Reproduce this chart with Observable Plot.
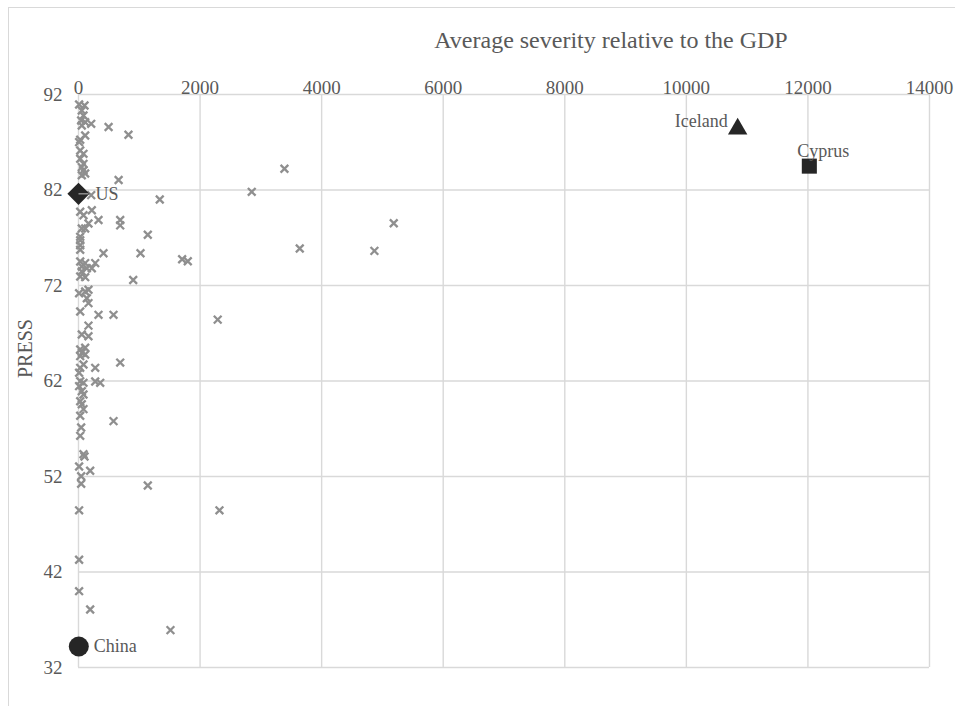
<!DOCTYPE html>
<html><head><meta charset="utf-8">
<script src="https://cdn.jsdelivr.net/npm/d3@7"></script>
<script src="https://cdn.jsdelivr.net/npm/@observablehq/plot@0.6"></script>
<style>
body{margin:0;background:#fff;}
#wrap{position:relative;width:955px;height:706px;overflow:hidden;background:#fff;}
#border{position:absolute;left:8px;top:7px;width:1000px;height:1000px;border:1px solid #d9d9d9;}
#chart{position:absolute;left:0;top:0;}
#chart svg text{font-family:"Liberation Serif","DejaVu Serif",serif;}
</style></head><body>
<div id="wrap"><div id="border"></div><div id="chart"></div></div>
<script>
// Gray points: average severity relative to GDP (x) and PRESS score (y)
const severity = [10,99,54,82,44,110,209,54,495,822,110,28,10,28,82,28,82,54,3388,82,110,54,660,2850,209,1337,219,28,82,329,686,5186,164,686,54,110,1140,28,28,28,3640,28,4868,411,1020,1705,1798,28,110,275,54,219,137,54,28,110,900,164,110,10,137,164,28,329,576,2290,164,54,164,110,28,54,110,28,686,82,28,275,10,28,275,82,357,10,54,82,28,54,82,28,576,44,28,82,99,10,192,44,44,1140,10,2319,10,10,192,1513];
const press = [90.95,90.85,90.32,89.80,89.28,89.10,88.93,88.75,88.6,87.78,87.71,87.26,87.01,86.14,85.79,85.27,84.74,84.39,84.22,84.07,83.73,83.55,83.05,81.81,81.46,81.01,79.88,79.72,79.36,78.86,78.86,78.52,78.49,78.3,77.97,77.97,77.31,77.10,76.74,76.22,75.87,75.74,75.63,75.38,75.38,74.75,74.54,74.51,74.34,74.34,73.99,73.81,73.81,73.47,72.94,72.87,72.58,71.55,71.37,71.19,70.67,70.15,69.28,68.93,68.93,68.43,67.8,66.87,66.69,65.48,65.30,64.95,64.77,64.60,63.93,63.73,63.38,63.38,62.86,61.98,61.95,61.81,61.81,61.46,60.93,60.59,59.88,59.57,59.05,58.36,57.8,57.13,56.26,54.33,54.09,53.05,52.6,52.03,51.24,51.06,48.46,48.46,43.28,39.99,38.07,35.91];

// Highlighted countries
const highlightNames = ["US", "China", "Iceland", "Cyprus"];
const highlightSeverity = [0, 5, 10844, 12023];
const highlightPress = [81.6, 34.2, 88.6, 84.5];

const xTicks = [0, 2000, 4000, 6000, 8000, 10000, 12000, 14000];
const yTicks = [32, 42, 52, 62, 72, 82, 92];
const xTitle = "Average severity relative to the GDP";
const yTitle = "PRESS";

const points = severity.map((s, i) => ({x: s, y: press[i]}));
const hl = highlightNames.map((n, i) => ({name: n, x: highlightSeverity[i], y: highlightPress[i]}));
const pick = n => hl.filter(d => d.name === n);

const ink = "#262626";
const textGray = "#595959";
const serif = "'Liberation Serif', 'DejaVu Serif', serif";
const lbl = {x: "x", y: "y", text: "name", fontSize: 18, fill: textGray, fontFamily: serif};

const chart = Plot.plot({
  width: 955,
  height: 706,
  marginLeft: 78,
  marginRight: 26,
  marginTop: 94,
  marginBottom: 39,
  style: {fontFamily: serif, fontSize: "19px", color: textGray, background: "transparent", overflow: "visible"},
  x: {domain: [0, 14000]},
  y: {domain: [32, 92]},
  marks: [
    Plot.gridX(xTicks, {stroke: "#d9d9d9", strokeOpacity: 1, strokeWidth: 1.4}),
    Plot.gridY(yTicks, {stroke: "#d9d9d9", strokeOpacity: 1, strokeWidth: 1.4}),
    Plot.axisX({anchor: "top", ticks: xTicks, tickSize: 0, tickPadding: 1, tickFormat: d => String(d), label: null, fill: textGray, fontFamily: serif}),
    Plot.axisY({ticks: yTicks, tickSize: 0, tickPadding: 16, tickFormat: d => String(d), label: null, fill: textGray, fontFamily: serif}),
    Plot.dot(points, {x: "x", y: "y", symbol: "times", r: 3.6, stroke: "#8f8f8f", strokeWidth: 2.3}),
    Plot.dot(pick("US"), {x: "x", y: "y", symbol: "diamond2", r: 10, fill: ink, stroke: "none"}),
    Plot.dot(pick("China"), {x: "x", y: "y", symbol: "circle", r: 10, fill: ink, stroke: "none"}),
    Plot.dot(pick("Iceland"), {x: "x", y: "y", symbol: "triangle", r: 7.2, fill: ink, stroke: "none", dy: 2}),
    Plot.dot(pick("Cyprus"), {x: "x", y: "y", symbol: "square", r: 8.5, fill: ink, stroke: "none"}),
    Plot.link(pick("US"), {x1: "x", y1: "y", x2: d => d.x + 165, y2: "y", stroke: "#a6a6a6", strokeWidth: 1.2}),
    Plot.text(pick("US"), {...lbl, textAnchor: "start", dx: 17}),
    Plot.text(pick("China"), {...lbl, textAnchor: "start", dx: 15}),
    Plot.text(pick("Iceland"), {...lbl, textAnchor: "end", dx: -10, dy: -6}),
    Plot.text(pick("Cyprus"), {...lbl, textAnchor: "middle", dx: 14, dy: -15}),
    Plot.text([xTitle], {frameAnchor: "top", dx: 107, dy: -54, lineAnchor: "middle", fontSize: 24, fill: textGray, fontFamily: serif}),
    Plot.text([yTitle], {frameAnchor: "left", rotate: -90, dx: -53, dy: -3, lineAnchor: "middle", fontSize: 20, fill: textGray, fontFamily: serif})
  ]
});
document.getElementById("chart").appendChild(chart);
</script>
</body></html>
